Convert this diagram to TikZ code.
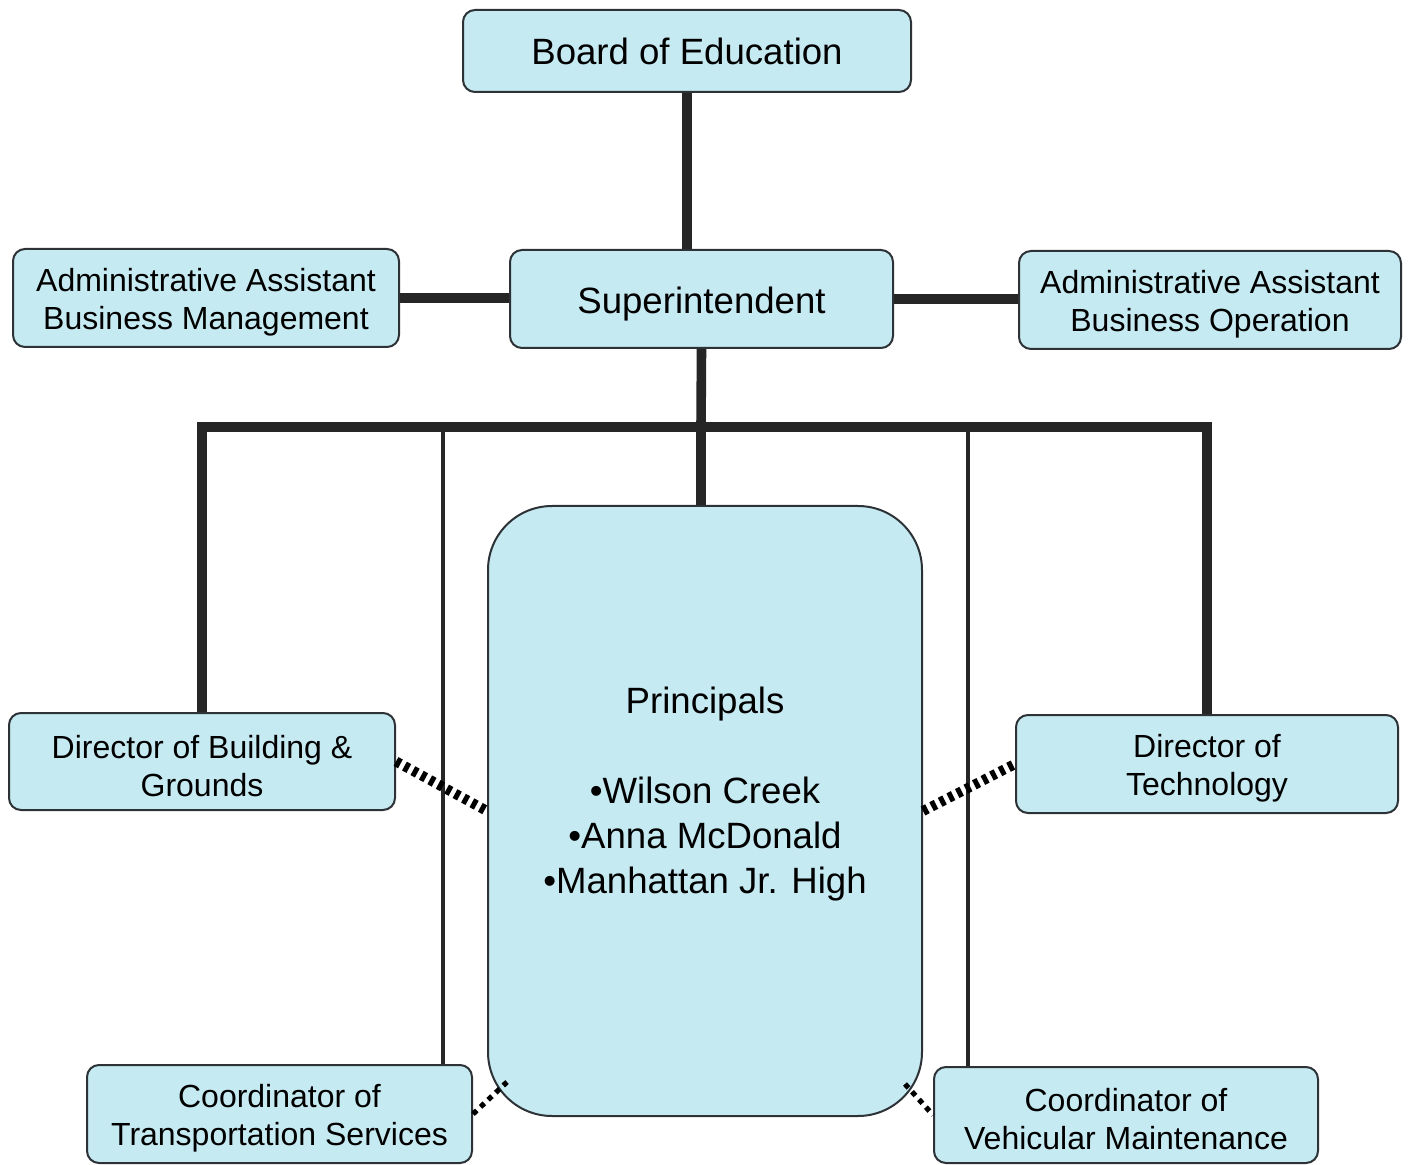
\documentclass[tikz,border=0pt]{standalone}
\usepackage{fontspec}
\setmainfont{Liberation Sans}
% taller first line, so the text sits a little lower in its box
\newcommand\topgap{\rule{0pt}{0.98em}}
\begin{document}
\definecolor{boxfill}{RGB}{198,234,242}
\definecolor{boxline}{RGB}{45,50,55}
\begin{tikzpicture}[x=0.5pt,y=-0.5pt,
  unit/.style={draw=boxline,line width=1pt,fill=boxfill,rounded corners=6pt,
    align=center,inner sep=0pt,font=\fontsize{16}{19}\selectfont},
  bigunit/.style={unit,font=\fontsize{18.3}{22}\selectfont},
  trunk/.style={line width=4.8pt,draw=black!85},
  branch/.style={line width=2.2pt,draw=black!85},
  dashlink/.style={line width=5pt,dash pattern=on 2.5pt off 2.3pt,draw=black},
  dotlink/.style={line width=2.6pt,dash pattern=on 2.6pt off 2.6pt,draw=black}]
\useasboundingbox (0,0) rectangle (1408,1165);

% boxes
\node[bigunit,minimum width=224pt,minimum height=41pt] (board) at (687,51) {Board of Education};
\node[bigunit,minimum width=191.5pt,minimum height=49pt] (supt) at (701.5,299) {\topgap Superintendent};
\node[unit,minimum width=193pt,minimum height=49pt] (aam) at (206,298) {\topgap Administrative Assistant\\Business Management};
\node[unit,minimum width=191pt,minimum height=49pt] (aao) at (1210,300) {\topgap Administrative Assistant\\Business Operation};
\node[unit,rounded corners=32pt,minimum width=217pt,minimum height=305pt] (prin) at (705,811) {};
\node[font=\fontsize{18.3}{22.5}\selectfont,align=center] (printext) at (705,794)
  {Principals\\[22.5pt]\textbullet Wilson Creek\\\textbullet Anna McDonald\\\textbullet Manhattan Jr. High};
\node[unit,minimum width=193pt,minimum height=48.5pt] (dirb) at (202,761.5) {\topgap Director of Building \&\\Grounds};
\node[unit,minimum width=191pt,minimum height=49pt] (dirt) at (1207,764) {\topgap Director of\\Technology};
\node[unit,minimum width=192.5pt,minimum height=49pt] (coordt) at (279.5,1114) {\topgap Coordinator of\\Transportation Services};
\node[unit,minimum width=192pt,minimum height=48pt] (coordv) at (1126,1115) {\topgap Coordinator of\\Vehicular Maintenance};

% junction points on the main bus
\coordinate (hub) at (701,427);
\coordinate (tapL) at (443,427);
\coordinate (tapR) at (968,427);
\coordinate (prinSW) at (507,1082);
\coordinate (prinSE) at (905,1084);

% solid reporting lines
\draw[trunk] (board.south) -- (board.south |- supt.north);
\draw[trunk] (aam.east) -- (aam.east -| supt.west);
\draw[trunk] (supt.east) -- (supt.east -| aao.west);
\draw[trunk] (supt.south) -- (hub);
\draw[trunk] (dirb.north) |- (hub) -| (dirt.north);
\draw[trunk] (hub) -- (hub |- prin.north);
\draw[branch] (tapL) -- (tapL |- coordt.north);
\draw[branch] (tapR) -- (tapR |- coordv.north);

% coordinating lines
\draw[dashlink] (dirb.east) -- (prin.west);
\draw[dashlink] (prin.east) -- (dirt.west);
\draw[dotlink] (coordt.east) -- (prinSW);
\draw[dotlink] (prinSE) -- (coordv.west);
\end{tikzpicture}
\end{document}
